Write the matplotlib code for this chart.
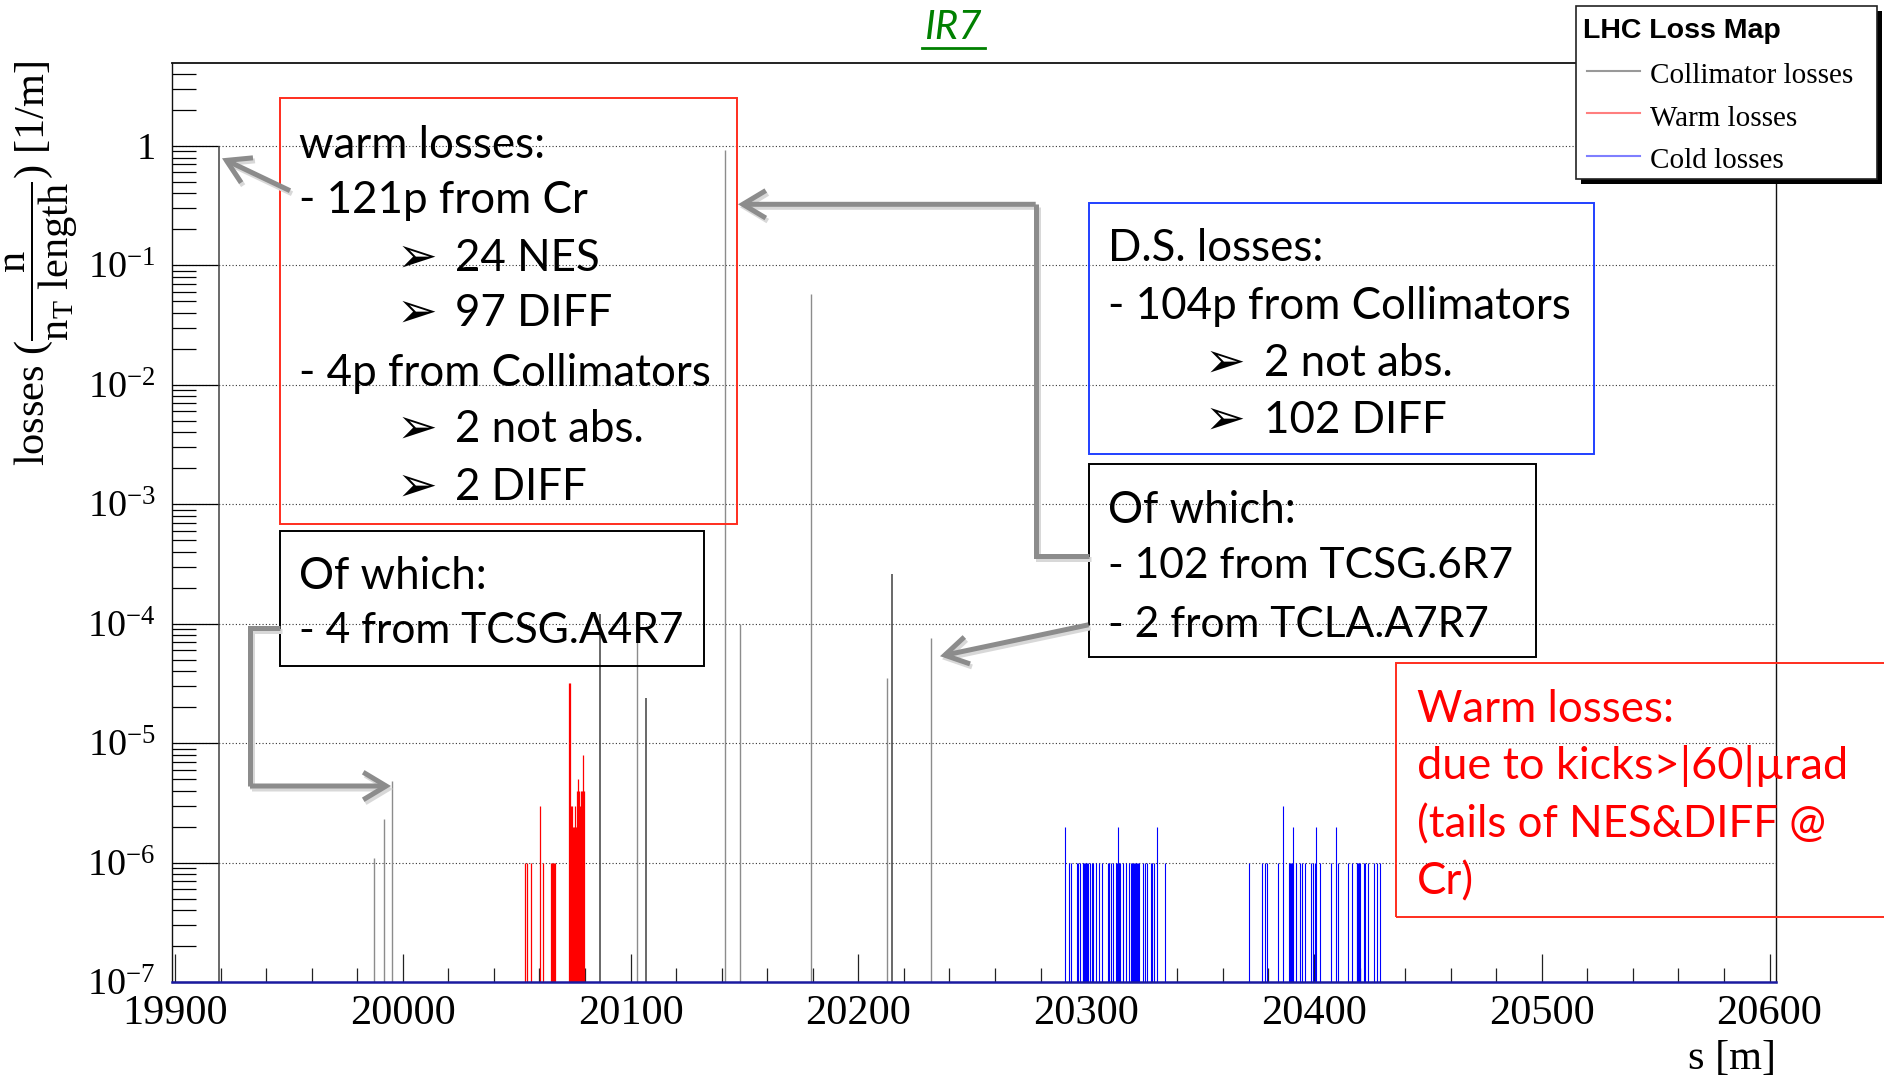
import matplotlib
matplotlib.use('Agg')
import matplotlib.pyplot as plt
import numpy as np
from matplotlib.lines import Line2D
from matplotlib.patches import Rectangle, FancyArrowPatch
from matplotlib.ticker import FixedLocator, FuncFormatter, NullFormatter

plt.rcParams['font.family'] = ['Liberation Serif', 'DejaVu Serif']
plt.rcParams['mathtext.fontset'] = 'custom'
plt.rcParams['mathtext.rm'] = 'Liberation Serif'
plt.rcParams['mathtext.it'] = 'Liberation Serif:italic'
plt.rcParams['mathtext.bf'] = 'Liberation Serif:bold'

# ---------------- data ----------------
coll_s = [19919.4, 19987.4, 19991.6, 19995.1, 20086.5, 20102.9, 20106.6,
          20141.4, 20148.1, 20179.0, 20212.4, 20214.6, 20231.8]
coll_loss = [1.0, 1.1e-6, 2.3e-6, 4.8e-6, 1.2e-4, 1.2e-4, 2.4e-5,
             0.93, 1.0e-4, 0.058, 3.5e-5, 2.6e-4, 7.6e-5]
coll_dark = [True, False, False, False, True, False, True,
             False, False, False, False, True, False]

warm_s = [20053.6, 20054.4, 20056.1, 20060.2, 20061.6,
          20065.0, 20065.5, 20066.0, 20066.5, 20067.0,
          20072.9, 20073.3, 20073.8, 20074.2, 20074.7, 20075.1, 20075.5,
          20075.8, 20076.2, 20076.6, 20077.0, 20077.4, 20077.9, 20078.3,
          20078.7, 20078.95, 20079.3, 20079.6]
warm_loss = [1e-6, 1e-6, 1e-6, 3e-6, 1e-6,
             1e-6, 1e-6, 1e-6, 1e-6, 1e-6,
             32e-6, 32e-6, 3e-6, 3e-6, 2e-6, 2e-6, 2e-6,
             3e-6, 2e-6, 4e-6, 5e-6, 4e-6, 3e-6, 4e-6,
             4e-6, 8e-6, 4e-6, 4e-6]

cold_s = [20290.5, 20292.6, 20293.4, 20295.8, 20296.5, 20297.5,
          20298.4, 20298.8, 20299.2, 20299.6, 20300.0, 20300.4, 20300.9,
          20301.6, 20302.4, 20303.1, 20304.3, 20305.7, 20306.8,
          20309.4, 20310.1, 20310.8, 20311.6,
          20313.3, 20313.7, 20314.1, 20314.5, 20314.8, 20316.0,
          20317.7, 20318.6, 20319.5,
          20320.2, 20320.6, 20321.0, 20321.4, 20321.8, 20322.2, 20322.6, 20323.1,
          20324.8, 20325.8, 20326.8, 20328.3, 20329.1, 20329.9, 20330.9, 20334.6,
          20371.7, 20377.4, 20378.5, 20379.3, 20384.4, 20386.2,
          20389.1, 20389.5, 20389.9, 20390.3, 20390.9,
          20392.3, 20393.8, 20394.8, 20396.0,
          20398.9, 20399.7, 20400.4, 20400.8, 20402.6,
          20407.3, 20409.5, 20410.4, 20415.0, 20416.5,
          20418.7, 20419.1, 20419.5, 20419.9, 20420.2,
          20422.1, 20422.6, 20423.8, 20426.2, 20427.5, 20429.2]
cold_loss = [2e-6, 1e-6, 1e-6, 1e-6, 1e-6, 1e-6,
             1e-6, 1e-6, 1e-6, 1e-6, 1e-6, 1e-6, 1e-6,
             1e-6, 1e-6, 1e-6, 1e-6, 1e-6, 1e-6,
             1e-6, 1e-6, 1e-6, 1e-6,
             1e-6, 1e-6, 2e-6, 1e-6, 1e-6, 1e-6,
             1e-6, 1e-6, 1e-6,
             1e-6, 1e-6, 1e-6, 1e-6, 1e-6, 1e-6, 1e-6, 1e-6,
             1e-6, 1e-6, 1e-6, 1e-6, 1e-6, 1e-6, 2e-6, 1e-6,
             1e-6, 1e-6, 1e-6, 1e-6, 1e-6, 3e-6,
             1e-6, 1e-6, 1e-6, 1e-6, 2e-6,
             1e-6, 1e-6, 1e-6, 1e-6,
             1e-6, 1e-6, 1e-6, 2e-6, 1e-6,
             1e-6, 2e-6, 1e-6, 1e-6, 1e-6,
             1e-6, 1e-6, 1e-6, 1e-6, 1e-6,
             1e-6, 1e-6, 1e-6, 1e-6, 1e-6, 1e-6]

x_major = [19900, 20000, 20100, 20200, 20300, 20400, 20500, 20600]
x_labels = ['19900', '20000', '20100', '20200', '20300', '20400', '20500', '20600']
y_decades = [-7, -6, -5, -4, -3, -2, -1, 0]

legend_labels = ['Collimator losses', 'Warm losses', 'Cold losses']

# ---------------- figure ----------------
W, H = 1884, 1078
fig = plt.figure(figsize=(W / 100, H / 100), dpi=100)


def fx(x):
    return x / W


def fy(y):
    return 1 - y / H


ax_l, ax_r, ax_t, ax_b = 172.3, 1775.9, 63.3, 982.0
ax = fig.add_axes([fx(ax_l), fy(ax_b), (ax_r - ax_l) / W, (ax_b - ax_t) / H])
ax.set_yscale('log')
ax.set_xlim(19898.8, 20602.8)
ymin, ymax = 1e-7, 4.92
ax.set_ylim(ymin, ymax)

# grid
ax.set_axisbelow(True)
for e in y_decades[1:]:
    ax.axhline(10.0 ** e, color='#333333', lw=0.8, ls=(0, (1, 2)), zorder=0.5)

# data lines
for s, v, d in zip(coll_s, coll_loss, coll_dark):
    ax.vlines(s, ymin, v, colors='#404040' if d else '#8c8c8c',
              lw=1.1 if d else 1.0, zorder=2)
ax.vlines(warm_s, ymin, warm_loss, colors='#ff0000', lw=0.9, zorder=2)
ax.vlines(cold_s, ymin, cold_loss, colors='#0000ff', lw=0.8, zorder=2)

# spines
for sp in ['left', 'right', 'top']:
    ax.spines[sp].set_color('#111111')
    ax.spines[sp].set_linewidth(1.0)
ax.spines['top'].set_linewidth(1.3)
ax.spines['bottom'].set_color('#1a1aa0')
ax.spines['bottom'].set_linewidth(1.8)

# ticks
ax.xaxis.set_major_locator(FixedLocator(x_major))
ax.xaxis.set_minor_locator(FixedLocator(np.arange(19900, 20601, 20)))
ax.set_xticklabels(x_labels)
ax.tick_params(axis='x', which='major', direction='in', length=20, width=0.9,
               labelsize=30.5, pad=9, color='#222222', top=False)
ax.tick_params(axis='x', which='minor', direction='in', length=10, width=0.9,
               color='#222222', top=False)

ax.yaxis.set_major_locator(FixedLocator([10.0 ** e for e in y_decades]))
minors = [k * 10.0 ** e for e in y_decades for k in range(2, 10) if k * 10.0 ** e < ymax]
ax.yaxis.set_minor_locator(FixedLocator(minors))
ax.yaxis.set_minor_formatter(NullFormatter())


def yfmt(v, pos):
    e = int(round(np.log10(v)))
    return '1' if e == 0 else r'$10^{%d}$' % e


ax.yaxis.set_major_formatter(FuncFormatter(yfmt))
ax.tick_params(axis='y', which='major', direction='in', length=34, width=0.9,
               labelsize=27.5, pad=12, right=False)
ax.tick_params(axis='y', which='minor', direction='in', length=17, width=0.9,
               right=False)

# axis titles
fig.text(fx(42), fy(60),
         r'losses $(\dfrac{\mathrm{n}}{\mathrm{n}_{\mathrm{T}}\ \mathrm{length}})$ [1/m]',
         rotation=90, ha='center', va='top', fontsize=30.5)
fig.text(fx(1776), fy(1059), 's [m]', ha='right', va='center', fontsize=30.5)

# title
fig.text(fx(953), fy(27.5), 'IR7', ha='center', va='center', fontsize=29,
         family=['Lato', 'DejaVu Sans'], style='italic', color='#008000')
fig.add_artist(Line2D([fx(922), fx(985)], [fy(48), fy(48)], color='#008000',
                      lw=2.0, transform=fig.transFigure))

# ---------------- annotation boxes ----------------
def box(x0, y0, x1, y1, color, lw=1.4):
    fig.add_artist(Rectangle((fx(x0), fy(y1)), (x1 - x0) / W, (y1 - y0) / H,
                             transform=fig.transFigure, fill=False,
                             edgecolor=color, lw=lw, zorder=5))


box(280, 98.5, 736.5, 524.3, '#ff2d1e')
box(280, 530.5, 704, 666, '#000000')
box(1088.5, 203, 1594.4, 454, '#2040ff')
box(1088.5, 463.8, 1535.5, 657, '#000000')
box(1396, 663, 1905, 916.7, '#ff2d1e')

TF = ['Lato', 'DejaVu Sans']
FS = 31.6


def t(x, yc, s, color='black', fs=FS):
    fig.text(fx(x), fy(yc + 15.8), s, ha='left', va='baseline', fontsize=fs,
             family=TF, color=color, zorder=6)


def bullet(x, yc):
    fig.text(fx(x - 3), fy(yc + 16.5), '\u27a2', ha='left', va='baseline',
             fontsize=35, family=['DejaVu Sans'], color='black', zorder=6)


# warm losses box
t(299, 141.8, 'warm losses:')
t(299, 197, '- 121p from Cr')
bullet(400, 254.7); t(455.4, 254.7, '24 NES')
bullet(400, 310); t(455.4, 310, '97 DIFF')
t(299, 370, '- 4p from Collimators')
bullet(400, 426.5); t(455.4, 426.5, '2 not abs.')
bullet(400, 484.2); t(455.4, 484.2, '2 DIFF')

# of which (left)
t(299, 573, 'Of which:')
t(299, 627, '- 4 from TCSG.A4R7', fs=30.6)

# D.S. losses box
t(1107.8, 245, 'D.S. losses:')
t(1107.8, 302.8, '- 104p from Collimators')
bullet(1207.5, 360.5); t(1264, 360.5, '2 not abs.')
bullet(1207.5, 417); t(1264, 417, '102 DIFF')

# of which (right)
t(1107.8, 507, 'Of which:')
t(1107.8, 562.3, '- 102 from TCSG.6R7', fs=30.6)
t(1107.8, 621.2, '- 2 from TCLA.A7R7', fs=30.6)

# warm losses (red text)
RED = '#ff0000'
t(1416.6, 706.5, 'Warm losses:', RED)
t(1416.6, 763, 'due to kicks>|60|\u00b5rad', RED, fs=32.5)
t(1416.6, 821.8, '(tails of NES&DIFF @', RED)
t(1416.6, 878.3, 'Cr)', RED)

# ---------------- arrows ----------------
AC = '#8c8c8c'
SC = '#d8d8d8'


def poly(pts, color=AC, lw=3.6, z=7, off=(0, 0)):
    xs = [fx(p[0] + off[0]) for p in pts]
    ys = [fy(p[1] + off[1]) for p in pts]
    fig.add_artist(Line2D(xs, ys, color=color, lw=lw, transform=fig.transFigure,
                          zorder=z, solid_capstyle='butt', solid_joinstyle='miter'))


def arrow(p0, p1, color=AC, z=7, off=(0, 0)):
    a = FancyArrowPatch((fx(p0[0] + off[0]), fy(p0[1] + off[1])),
                        (fx(p1[0] + off[0]), fy(p1[1] + off[1])),
                        transform=fig.transFigure,
                        arrowstyle='->,head_length=0.75,head_width=0.45',
                        mutation_scale=22, color=color, lw=3.6, zorder=z,
                        shrinkA=0, shrinkB=0, joinstyle='miter', capstyle='butt')
    fig.add_artist(a)


def draw_arrow(points):
    for off, col, z in [((2, 3), SC, 6.5), ((0, 0), AC, 7)]:
        if len(points) > 2:
            poly(points[:-1], color=col, z=z, off=off)
        arrow(points[-2], points[-1], color=col, z=z, off=off)


draw_arrow([(290, 190.7), (222, 158.3)])
draw_arrow([(1088.5, 556.3), (1035.7, 556.3), (1035.7, 204.3), (738, 204.3)])
draw_arrow([(1088.5, 624.8), (940, 656.2)])
draw_arrow([(280, 628), (250, 628), (250, 786), (391, 786)])

# ---------------- legend ----------------
lx0, ly0, lx1, ly1 = 1575.7, 5.7, 1876.7, 179
fig.add_artist(Rectangle((fx(lx0 + 5), fy(ly1 + 5)), (lx1 - lx0) / W, (ly1 - ly0) / H,
                         transform=fig.transFigure, facecolor='black',
                         edgecolor='none', zorder=8))
fig.add_artist(Rectangle((fx(lx0), fy(ly1)), (lx1 - lx0) / W, (ly1 - ly0) / H,
                         transform=fig.transFigure, facecolor='white',
                         edgecolor='#222222', lw=1.2, zorder=9))
fig.text(fx(1583), fy(37.5), 'LHC Loss Map', ha='left', va='baseline', fontsize=20.5,
         family=['Liberation Sans'], weight='bold', zorder=10)
leg_colors = ['#999999', '#ff7f7f', '#7f7fff']
leg_line_y = [71, 113.3, 156]
leg_base_y = [83.3, 125.5, 168]
for lab, c, yl, yb in zip(legend_labels, leg_colors, leg_line_y, leg_base_y):
    fig.add_artist(Line2D([fx(1586.7), fx(1640)], [fy(yl), fy(yl)], color=c, lw=1.5,
                          transform=fig.transFigure, zorder=10))
    fig.text(fx(1650), fy(yb), lab, ha='left', va='baseline', fontsize=21, zorder=10)

fig.savefig('out.png', dpi=100)
